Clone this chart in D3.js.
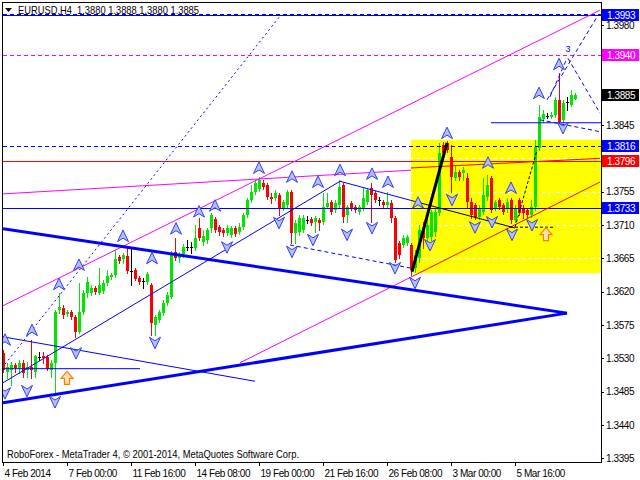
<!DOCTYPE html>
<html><head><meta charset="utf-8">
<script src="https://cdn.jsdelivr.net/npm/d3@7"></script>
<style>
body{margin:0;background:#fff}
svg{display:block}
text{font-family:"Liberation Sans",Arial,sans-serif}
</style>
</head><body><svg id="c" width="640" height="480"></svg>
<script>
// ---------- DATA ----------
const symbolTitle = "EURUSD,H4  1.3880 1.3888 1.3880 1.3885";
const footerText = "RoboForex - MetaTrader 4, \u00A9 2001-2014, MetaQuotes Software Corp.";
const timeLabels = ["4 Feb 2014","7 Feb 00:00","11 Feb 16:00","14 Feb 08:00","19 Feb 00:00","21 Feb 16:00","26 Feb 08:00","3 Mar 00:00","5 Mar 16:00"];
const timeLabelIdx = [0,16,32,48,64,80,96,112,128];
const priceTicks = [1.3395,1.3440,1.3485,1.3530,1.3575,1.3620,1.3665,1.3710,1.3755,1.3800,1.3845,1.3890,1.3935,1.3980];

const open = [1.3537,1.3512,1.3514,1.3521,1.3517,1.3524,1.3514,1.3518,1.3512,1.3532,
1.3533,1.3532,1.3514,1.3524,1.3595,1.3598,1.3590,1.3593,1.3586,1.3566,
1.3593,1.3618,1.3618,1.3625,1.3618,1.3621,1.3632,1.3640,1.3643,1.3667,
1.3664,1.3668,1.3648,1.3649,1.3638,1.3634,1.3633,1.3629,1.3575,1.3582,
1.3591,1.3605,1.3613,1.3674,1.3665,1.3671,1.3680,1.3680,1.3679,1.3706,
1.3687,1.3690,1.3706,1.3718,1.3707,1.3703,1.3699,1.3697,1.3706,1.3701,
1.3707,1.3724,1.3744,1.3755,1.3759,1.3767,1.3764,1.3748,1.3746,1.3750,
1.3733,1.3737,1.3755,1.3699,1.3701,1.3703,1.3717,1.3718,1.3714,1.3717,
1.3714,1.3734,1.3741,1.3730,1.3737,1.3764,1.3724,1.3740,1.3734,1.3728,
1.3733,1.3741,1.3760,1.3753,1.3744,1.3741,1.3737,1.3740,1.3719,1.3686,
1.3683,1.3686,1.3683,1.3652,1.3665,1.3706,1.3692,1.3694,1.3701,1.3726,
1.3818,1.3821,1.3802,1.3773,1.3782,1.3780,1.3773,1.3741,1.3737,1.3721,
1.3728,1.3748,1.3773,1.3733,1.3744,1.3737,1.3733,1.3744,1.3717,1.3744,
1.3733,1.3730,1.3724,1.3734,1.3814,1.3853,1.3857,1.3856,1.3859,1.3879,
1.3852,1.3876,1.3872,1.3880];
const high = [1.3541,1.3524,1.3525,1.3524,1.3528,1.3528,1.3525,1.3555,1.3535,1.3539,
1.3539,1.3535,1.3528,1.3595,1.3618,1.3602,1.3595,1.3595,1.3589,1.3632,
1.3622,1.3640,1.3629,1.3628,1.3652,1.3636,1.3649,1.3645,1.3676,1.3670,
1.3672,1.3679,1.3680,1.3652,1.3641,1.3638,1.3647,1.3632,1.3589,1.3595,
1.3609,1.3620,1.3675,1.3692,1.3674,1.3684,1.3690,1.3687,1.3710,1.3719,
1.3703,1.3706,1.3726,1.3721,1.3710,1.3706,1.3710,1.3709,1.3709,1.3713,
1.3726,1.3746,1.3764,1.3771,1.3775,1.3771,1.3767,1.3753,1.3757,1.3753,
1.3744,1.3757,1.3757,1.3717,1.3724,1.3724,1.3722,1.3721,1.3722,1.3719,
1.3753,1.3753,1.3744,1.3744,1.3771,1.3767,1.3737,1.3742,1.3737,1.3737,
1.3761,1.3760,1.3767,1.3756,1.3748,1.3744,1.3755,1.3744,1.3722,1.3688,
1.3697,1.3697,1.3686,1.3676,1.3710,1.3714,1.3724,1.3730,1.3733,1.3821,
1.3822,1.3823,1.3818,1.3791,1.3784,1.3788,1.3780,1.3746,1.3740,1.3737,
1.3773,1.3778,1.3776,1.3744,1.3746,1.3740,1.3746,1.3746,1.3737,1.3746,
1.3737,1.3733,1.3744,1.3825,1.3872,1.3865,1.3861,1.3863,1.3883,1.3915,
1.3879,1.3883,1.3892,1.3888];
const low = [1.3512,1.3503,1.3494,1.3512,1.3510,1.3505,1.3505,1.3503,1.3505,1.3528,
1.3524,1.3514,1.3505,1.3481,1.3591,1.3584,1.3587,1.3583,1.3559,1.3564,
1.3590,1.3613,1.3616,1.3617,1.3617,1.3618,1.3629,1.3637,1.3640,1.3659,
1.3659,1.3645,1.3629,1.3636,1.3630,1.3625,1.3630,1.3562,1.3562,1.3579,
1.3589,1.3602,1.3611,1.3663,1.3660,1.3667,1.3676,1.3672,1.3676,1.3690,
1.3683,1.3686,1.3701,1.3701,1.3697,1.3695,1.3697,1.3694,1.3695,1.3698,
1.3705,1.3721,1.3741,1.3752,1.3756,1.3759,1.3745,1.3740,1.3744,1.3724,
1.3730,1.3734,1.3686,1.3686,1.3697,1.3701,1.3713,1.3710,1.3701,1.3703,
1.3711,1.3733,1.3725,1.3728,1.3734,1.3714,1.3714,1.3730,1.3728,1.3725,
1.3730,1.3738,1.3714,1.3741,1.3737,1.3734,1.3733,1.3714,1.3660,1.3665,
1.3680,1.3683,1.3643,1.3647,1.3660,1.3679,1.3690,1.3690,1.3695,1.3724,
1.3803,1.3809,1.3755,1.3771,1.3771,1.3771,1.3734,1.3719,1.3718,1.3718,
1.3725,1.3744,1.3728,1.3730,1.3732,1.3725,1.3728,1.3713,1.3714,1.3724,
1.3719,1.3719,1.3721,1.3730,1.3811,1.3849,1.3854,1.3854,1.3856,1.3848,
1.3849,1.3865,1.3871,1.3880];
const close = [1.3514,1.3518,1.3521,1.3517,1.3524,1.3510,1.3518,1.3514,1.3533,1.3532,
1.3530,1.3516,1.3524,1.3593,1.3599,1.3589,1.3593,1.3586,1.3566,1.3593,
1.3618,1.3633,1.3625,1.3620,1.3629,1.3632,1.3641,1.3643,1.3664,1.3661,
1.3670,1.3648,1.3648,1.3637,1.3633,1.3634,1.3644,1.3578,1.3586,1.3593,
1.3605,1.3616,1.3672,1.3665,1.3671,1.3680,1.3680,1.3680,1.3692,1.3692,
1.3695,1.3703,1.3724,1.3703,1.3701,1.3699,1.3706,1.3706,1.3698,1.3707,
1.3724,1.3744,1.3755,1.3767,1.3771,1.3761,1.3748,1.3745,1.3753,1.3733,
1.3741,1.3755,1.3699,1.3713,1.3719,1.3719,1.3717,1.3713,1.3719,1.3713,
1.3734,1.3740,1.3728,1.3740,1.3761,1.3721,1.3734,1.3733,1.3730,1.3734,
1.3746,1.3757,1.3750,1.3744,1.3744,1.3737,1.3741,1.3719,1.3663,1.3670,
1.3692,1.3694,1.3649,1.3670,1.3703,1.3692,1.3710,1.3728,1.3728,1.3807,
1.3807,1.3811,1.3775,1.3782,1.3775,1.3784,1.3741,1.3724,1.3721,1.3733,
1.3750,1.3764,1.3730,1.3741,1.3734,1.3728,1.3741,1.3717,1.3733,1.3726,
1.3726,1.3724,1.3734,1.3815,1.3856,1.3860,1.3857,1.3859,1.3879,1.3849,
1.3875,1.3876,1.3886,1.3885];

// horizontal levels (price)
const blueSolidLevels = [1.3993, 1.3733];
const blueDashedLevels = [1.3995, 1.3816];
const magentaDashedLevels = [1.3940];
const redSolidLevels = [1.3796];
// price labels on the axis
const blueLabelPrices = [1.3993, 1.3816, 1.3733];
const magentaLabelPrices = [1.3940];
const redLabelPrices = [1.3796];
const lastPrice = [1.3885];

// rectangle zone [i1, p1, i2, p2]
const yellowZone = [102, 1.3825, 149.5, 1.3645];

// trend lines [i1, p1, i2, p2]
const magentaLines = [[0,1.3601,149.25,1.4000],[0,1.3752,102,1.3784],[59.25,1.3524,102.5,1.3641]];
const redLines = [[102,1.3787,149.25,1.3800],[102.5,1.3641,149.25,1.3768]];
const thickBlueLines = [[0,1.3705,141,1.3591],[0,1.3470,141,1.3591]];
const thinBlueLines = [[0,1.3497,84.25,1.3769],[84.25,1.3769,103.5,1.3741],[0,1.3559,63,1.3499],[0,1.3516,34.25,1.3516],[122,1.3848,149.5,1.3848]];
const thinBlackLines = [[103.5,1.3741,128,1.3706]];
const thickBlackLines = [[102.25,1.3647,111,1.3821]];
const dottedBlueLines = [[0.5,1.3522,69.25,1.3992]];
const dashedBlueLines = [[71.75,1.3683,101.75,1.3652],[136,1.3879,148.5,1.3991],[136.75,1.3883,141,1.3935],[141.25,1.3935,149.25,1.3861],[134.25,1.3852,149.25,1.3836]];
const dashedBlackLines = [[128,1.3707,133.5,1.3811],[126.75,1.3707,138,1.3707]];

// fractal arrows
const upArrowIdx = [0.5,7.25,14,19,30,37.25,43.25,49,53,64,72.25,78.75,84.25,92.25,96.25,103.75,111,121.25,127,134,139];
const upArrowPrice = [1.3555,1.3568,1.3630,1.3656,1.3695,1.3665,1.3705,1.3728,1.3736,1.3787,1.3775,1.3768,1.3784,1.3779,1.3768,1.3740,1.3834,1.3794,1.3760,1.3888,1.3927];
const downArrowIdx = [0.5,6,13,18.25,38,56,69,72.25,77.5,86,92.25,98,103,106.75,112.25,118,122.25,127.25,132.25,140];
const downArrowPrice = [1.3483,1.3486,1.3471,1.3537,1.3551,1.3680,1.3713,1.3674,1.3690,1.3697,1.3706,1.3652,1.3632,1.3683,1.3744,1.3707,1.3714,1.3697,1.3710,1.3841];
const signalArrowIdx = [16, 135.75];
const signalArrowPrice = [1.3503, 1.3697];
const waveLabels = ["3"];
const waveLabelIdx = [141.25];
const waveLabelPrice = [1.3944];

// ---------- DRAW ----------
const svg = d3.select("#c");
const L = 3, R = 601, T = 3, B = 462;
const x = d3.scaleLinear().domain([0, 149.5]).range([3, 601]);
const y = d3.scaleLinear().domain([1.3395, 1.3980]).range([458.3, 25]);

svg.append("rect").attr("width",640).attr("height",480).attr("fill","#fff");
svg.append("defs").append("clipPath").attr("id","plot")
  .append("rect").attr("x",L).attr("y",T).attr("width",R-L).attr("height",B-T);

const plot = svg.append("g").attr("clip-path","url(#plot)");

// yellow zone
plot.append("rect")
  .attr("x", x(yellowZone[0])).attr("y", y(yellowZone[1]))
  .attr("width", x(yellowZone[2]) - x(yellowZone[0]))
  .attr("height", y(yellowZone[3]) - y(yellowZone[1]))
  .attr("fill","#ffff00");

// grid (white dashed - visible on the yellow zone)
plot.selectAll("line.grid").data(priceTicks).join("line")
  .attr("x1",L).attr("x2",R)
  .attr("y1",d=>Math.round(y(d))+0.5).attr("y2",d=>Math.round(y(d))+0.5)
  .attr("stroke","#fff").attr("stroke-dasharray","4,3");

// candles
const idx = d3.range(open.length);
const candle = plot.append("g").attr("shape-rendering","crispEdges");
const col = i => close[i] > open[i] ? "#00e600" : (close[i] < open[i] ? "#ff0000" : "#000000");
candle.selectAll("line").data(idx).join("line")
  .attr("x1",i=>Math.round(x(i))+0.5).attr("x2",i=>Math.round(x(i))+0.5)
  .attr("y1",i=>Math.round(y(high[i]))).attr("y2",i=>Math.round(y(low[i]))+1)
  .attr("stroke",col);
candle.selectAll("rect").data(idx).join("rect")
  .attr("x",i=>Math.round(x(i))-1)
  .attr("width",3)
  .attr("y",i=>Math.round(y(Math.max(open[i],close[i]))))
  .attr("height",i=>Math.max(1, Math.round(y(Math.min(open[i],close[i]))) - Math.round(y(Math.max(open[i],close[i])))))
  .attr("fill",col);

// horizontal levels
function hLevels(arr, color, dash){
  plot.append("g").selectAll("line").data(arr).join("line")
    .attr("x1",L).attr("x2",R)
    .attr("y1",d=>Math.round(y(d))+0.5).attr("y2",d=>Math.round(y(d))+0.5)
    .attr("stroke",color).attr("stroke-dasharray",dash||null);
}
hLevels(blueSolidLevels,"#0000ff");
hLevels(blueDashedLevels,"#0000ff","4,3");
hLevels(magentaDashedLevels,"#ff00ff","4,3");
hLevels(redSolidLevels,"#ff0000");

// trend lines
function tLines(arr, color, width, dash){
  plot.append("g").selectAll("line").data(arr).join("line")
    .attr("x1",d=>x(d[0])).attr("y1",d=>y(d[1]))
    .attr("x2",d=>x(d[2])).attr("y2",d=>y(d[3]))
    .attr("stroke",color).attr("stroke-width",width)
    .attr("stroke-dasharray",dash||null);
}
tLines(magentaLines,"#ff00ff",1);
tLines(redLines,"#ff0000",1);
tLines(thinBlueLines,"#0000ff",1);
tLines(thinBlackLines,"#000000",1);
tLines(dottedBlueLines,"#0000ff",1,"2,3");
tLines(dashedBlueLines,"#0000ff",1,"4,3");
tLines(dashedBlackLines,"#000000",1,"3,2");
tLines(thickBlueLines,"#0000ff",3);
tLines(thickBlackLines,"#000000",3);

// fractal arrows
const upPath = "M0,-6L5.5,5.5L0,2L-5.5,5.5Z";
const downPath = "M0,6L5.5,-5.5L0,-2L-5.5,-5.5Z";
plot.append("g").selectAll("path").data(upArrowIdx).join("path")
  .attr("d",upPath)
  .attr("transform",(d,i)=>`translate(${x(d)},${y(upArrowPrice[i])})`)
  .attr("fill","#b4beff").attr("stroke","#3040e8").attr("stroke-width",1).attr("stroke-linejoin","round");
plot.append("g").selectAll("path").data(downArrowIdx).join("path")
  .attr("d",downPath)
  .attr("transform",(d,i)=>`translate(${x(d)},${y(downArrowPrice[i])})`)
  .attr("fill","#b4beff").attr("stroke","#3040e8").attr("stroke-width",1).attr("stroke-linejoin","round");

// orange signal arrows
plot.append("g").selectAll("path").data(signalArrowIdx).join("path")
  .attr("d","M0,-7L6,0L2.5,0L2.5,6L-2.5,6L-2.5,0L-6,0Z")
  .attr("transform",(d,i)=>`translate(${x(d)},${y(signalArrowPrice[i])})`)
  .attr("fill","#ffe6b8").attr("stroke","#ff7a00").attr("stroke-width",1.2);

// wave label
plot.append("g").selectAll("text").data(waveLabels).join("text")
  .attr("x",(d,i)=>x(waveLabelIdx[i])).attr("y",(d,i)=>y(waveLabelPrice[i]))
  .attr("text-anchor","middle").attr("font-size",9).attr("fill","#0000ff").text(d=>d);

// frame
svg.append("rect").attr("x",2.5).attr("y",2.5).attr("width",R-2).attr("height",B-2)
  .attr("fill","none").attr("stroke","#000");

// price boxes (used to hide axis labels they cover)
const allBoxPrices = [].concat(blueLabelPrices, magentaLabelPrices, redLabelPrices, lastPrice);
const covered = d => allBoxPrices.some(p => Math.abs(y(p) - y(d)) < 9);

// y axis
const yAxis = svg.append("g").attr("transform",`translate(${R},0)`)
  .call(d3.axisRight(y).tickValues(priceTicks).tickFormat(d => covered(d) ? "" : d3.format(".4f")(d)).tickSize(3).tickPadding(2));
yAxis.select(".domain").remove();
yAxis.selectAll("text").attr("font-size",10).attr("letter-spacing","-0.4").attr("fill","#000")
  .attr("font-family","Liberation Sans, Arial, sans-serif").attr("x",5);
yAxis.selectAll("line").attr("stroke","#000").attr("shape-rendering","crispEdges");

// x axis
const xAxis = svg.append("g").attr("transform",`translate(0,${B})`)
  .call(d3.axisBottom(x).tickValues(timeLabelIdx).tickFormat((d,i)=>timeLabels[i]).tickSize(4).tickPadding(2));
xAxis.select(".domain").remove();
xAxis.selectAll("text").attr("font-size",10).attr("letter-spacing","-0.45").attr("fill","#000")
  .attr("text-anchor","start").attr("x",1).attr("dy","0.85em")
  .attr("font-family","Liberation Sans, Arial, sans-serif");
xAxis.selectAll("line").attr("stroke","#000").attr("shape-rendering","crispEdges");

// axis price boxes
function priceBoxes(arr, bg, fg){
  const g = svg.append("g").selectAll("g").data(arr).join("g")
    .attr("transform",d=>`translate(${R+1},${Math.round(y(d))})`);
  g.append("rect").attr("x",0).attr("y",-6).attr("width",37).attr("height",12).attr("fill",bg);
  g.append("text").attr("x",5).attr("y",4).attr("font-size",10).attr("letter-spacing","-0.4")
    .attr("fill",fg).text(d=>d3.format(".4f")(d));
}
priceBoxes(blueLabelPrices,"#0000ff","#fff");
priceBoxes(magentaLabelPrices,"#ff00ff","#fff");
priceBoxes(redLabelPrices,"#ff0000","#fff");
priceBoxes(lastPrice,"#000000","#fff");

// title
svg.append("path").attr("d","M5,8L12,8L8.5,12Z").attr("fill","#000");
svg.append("text").attr("x",18).attr("y",14).attr("font-size",10.5)
  .attr("textLength",181).attr("lengthAdjust","spacingAndGlyphs").attr("fill","#000")
  .attr("xml:space","preserve").text(symbolTitle);
// footer
svg.append("text").attr("x",7).attr("y",458).attr("font-size",10.5)
  .attr("textLength",292).attr("lengthAdjust","spacingAndGlyphs").attr("fill","#000")
  .text(footerText);
</script>
</body></html>
